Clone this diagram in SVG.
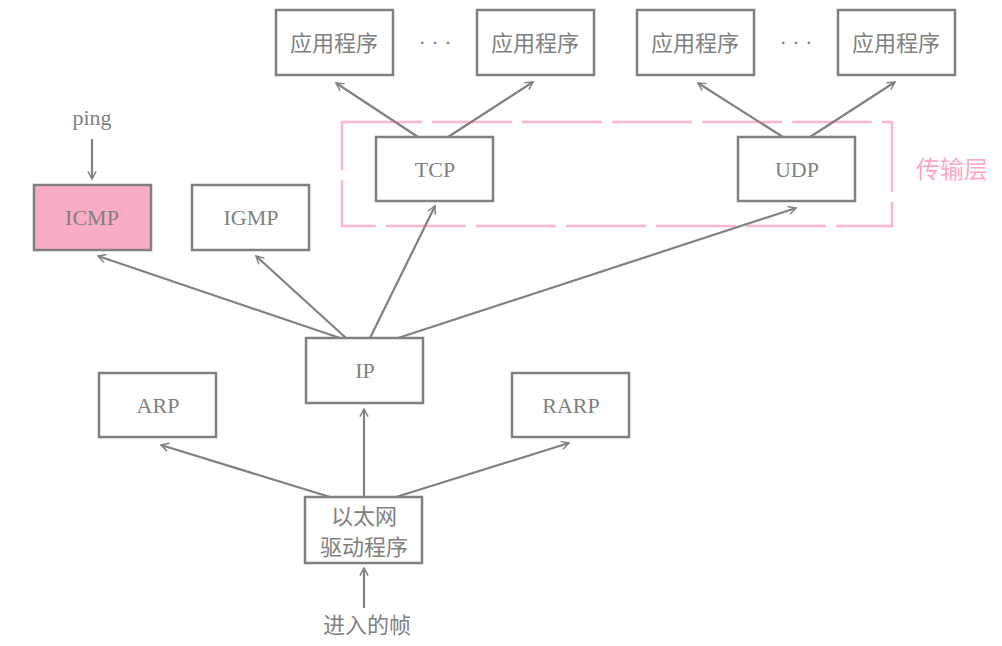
<svg xmlns="http://www.w3.org/2000/svg" width="1002" height="646" viewBox="0 0 1002 646">
<style>
.b{fill:#fff;stroke:#808080;stroke-width:2.5}
.t{font-family:"Liberation Serif","Noto Sans CJK SC",serif;font-size:22px;fill:#808080;text-anchor:middle}
.c{stroke:#808080;stroke-width:2.2;fill:none;marker-end:url(#a)}
</style>
<defs><marker id="a" viewBox="0 0 12 12" refX="11" refY="6" markerWidth="7" markerHeight="7" markerUnits="userSpaceOnUse" orient="auto" style="overflow:visible"><path d="M-2,-1 L11,6 L-2,13" fill="none" stroke="#808080" stroke-width="2.5"/></marker></defs>
<rect x="342" y="122" width="550" height="104" fill="none" stroke="#FFB6CB" stroke-width="2.5" stroke-dasharray="80,10"/>
<text x="952" y="178" class="t" style="fill:#FFA8C4;font-size:24px">传输层</text>
<g id="app1"><rect class="b" x="276" y="10" width="117" height="65"/><text class="t" x="334" y="51">应用程序</text></g>
<text class="t" x="435" y="50">· · ·</text>
<g id="app2"><rect class="b" x="477" y="10" width="117" height="65"/><text class="t" x="535" y="51">应用程序</text></g>
<g id="app3"><rect class="b" x="637" y="10" width="117" height="65"/><text class="t" x="695" y="51">应用程序</text></g>
<text class="t" x="796" y="50">· · ·</text>
<g id="app4"><rect class="b" x="838" y="10" width="117" height="65"/><text class="t" x="896" y="51">应用程序</text></g>
<g id="tcp"><rect class="b" x="376" y="137" width="117" height="64"/><text class="t" x="435" y="177">TCP</text></g>
<g id="udp"><rect class="b" x="738" y="137" width="117" height="64"/><text class="t" x="797" y="177">UDP</text></g>
<g id="ping"><text class="t" x="92" y="125">ping</text></g>
<g id="icmp"><rect class="b" style="fill:#FBACC6" x="34" y="185" width="117" height="65"/><text class="t" x="92" y="225">ICMP</text></g>
<g id="igmp"><rect class="b" x="192" y="185" width="117" height="65"/><text class="t" x="251" y="225">IGMP</text></g>
<g id="ip"><rect class="b" x="306" y="338" width="117" height="65"/><text class="t" x="365" y="378">IP</text></g>
<g id="arp"><rect class="b" x="99" y="373" width="117" height="64"/><text class="t" x="158" y="413">ARP</text></g>
<g id="rarp"><rect class="b" x="512" y="373" width="117" height="64"/><text class="t" x="571" y="413">RARP</text></g>
<g id="eth"><rect class="b" x="305" y="497" width="117" height="66"/><text class="t" x="364" y="524">以太网</text><text class="t" x="364" y="555">驱动程序</text></g>
<g id="frame"><text class="t" x="367" y="633">进入的帧</text></g>
<g id="connectors">
<line class="c" x1="92" y1="139" x2="92" y2="179"/>
<line class="c" x1="418" y1="137" x2="336" y2="83"/>
<line class="c" x1="448" y1="137" x2="533" y2="82"/>
<line class="c" x1="783" y1="137" x2="698" y2="83"/>
<line class="c" x1="810" y1="137" x2="895" y2="82"/>
<line class="c" x1="340" y1="338" x2="98" y2="256"/>
<line class="c" x1="346" y1="338" x2="256" y2="256"/>
<line class="c" x1="370" y1="338" x2="435" y2="206"/>
<line class="c" x1="398" y1="338" x2="796" y2="208"/>
<line class="c" x1="330" y1="497" x2="161" y2="445"/>
<line class="c" x1="364" y1="497" x2="364" y2="409"/>
<line class="c" x1="396" y1="497" x2="569" y2="443"/>
<line class="c" x1="364" y1="608" x2="364" y2="568"/>
</g>
</svg>
